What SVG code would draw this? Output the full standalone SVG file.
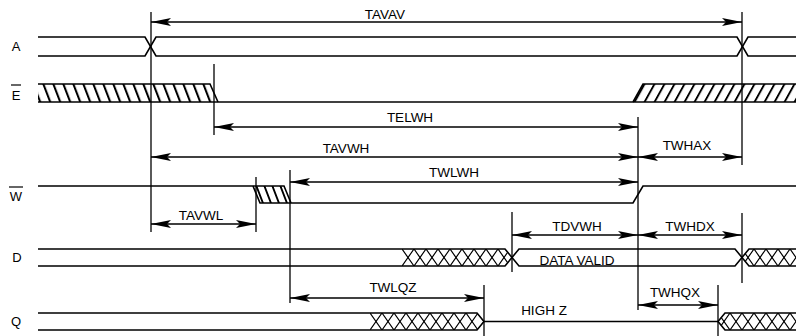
<svg xmlns="http://www.w3.org/2000/svg" width="796" height="336" viewBox="0 0 796 336">
<style>
.sig{fill:none;stroke:#000;stroke-width:1.6}
.vl{fill:none;stroke:#000;stroke-width:1.3}
.dim{fill:none;stroke:#000;stroke-width:1.3;marker-start:url(#ah);marker-end:url(#ah)}
.hz{fill:none;stroke:#000;stroke-width:1.2}
text{font-family:"Liberation Sans",Arial,sans-serif;font-size:13.5px;fill:#000;text-anchor:middle}
.lbl{font-size:13px}
</style>
<defs>
<marker id="ah" viewBox="0 0 20 10" refX="20" refY="5" markerWidth="20" markerHeight="10" markerUnits="userSpaceOnUse" orient="auto-start-reverse">
<path d="M0,1 L20,5 L0,9 L4,5 Z" fill="#000"/>
</marker>
<pattern id="hb" patternUnits="userSpaceOnUse" width="10" height="10" patternTransform="skewX(21)">
<rect x="0" y="0" width="2.2" height="10" fill="#000"/>
</pattern>
<pattern id="hb8" patternUnits="userSpaceOnUse" width="8" height="10" patternTransform="skewX(21)">
<rect x="0" y="0" width="2" height="10" fill="#000"/>
</pattern>
<pattern id="hf" patternUnits="userSpaceOnUse" width="10" height="10" patternTransform="skewX(-29)">
<rect x="0" y="0" width="2.2" height="10" fill="#000"/>
</pattern>
<clipPath id="cD1"><polygon points="402,249 505,249 512,257.5 505,266 402,266"/></clipPath>
<clipPath id="cD2"><polygon points="742,257.5 749,249 796,249 796,266 749,266"/></clipPath>
<clipPath id="cQ1"><polygon points="370,313 477,313 484,321.5 477,330 370,330"/></clipPath>
<clipPath id="cQ2"><polygon points="718,321.5 725,313 796,313 796,330 725,330"/></clipPath>
</defs>

<g id="labels">
<text class="lbl" x="16" y="51">A</text>
<text class="lbl" x="16" y="100">E</text>
<line x1="11" y1="85" x2="21" y2="85" stroke="#000" stroke-width="1.2"/>
<text class="lbl" x="16" y="201">W</text>
<line x1="9" y1="187" x2="23" y2="187" stroke="#000" stroke-width="1.2"/>
<text class="lbl" x="17" y="262">D</text>
<text class="lbl" x="16" y="326">Q</text>
</g>

<g id="signal-A">
<path class="sig" d="M38,37 H145 L156,56 H737 L748,37 H796"/>
<path class="sig" d="M38,56 H145 L156,37 H737 L748,56 H796"/>
</g>

<g id="signal-E">
<polygon points="38,84 210,84 218,102 38,102" fill="url(#hb)"/>
<polygon points="643,84 796,84 796,102 633,102" fill="url(#hf)"/>
<path class="sig" d="M38,84 H210 L218,102"/>
<path class="sig" d="M38,102 H796"/>
<path class="sig" d="M633,102 L643,84 H796"/>
</g>

<g id="signal-W">
<polygon points="253,186 284,186 291,203 260,203" fill="url(#hb8)"/>
<path class="sig" d="M38,186 H284 L291,203"/>
<path class="sig" d="M253,186 L260,203 H633 L643,186 H796"/>
</g>

<g id="signal-D">
<path class="sig" d="M38,249 H505 L512,257.5 L519,249 H735 L742,257.5 L749,249 H796"/>
<path class="sig" d="M38,266 H505 L512,257.5 L519,266 H735 L742,257.5 L749,266 H796"/>
<g clip-path="url(#cD1)">
<path class="hz" d="M402,249 L414,266 L426,249 L438,266 L450,249 L462,266 L474,249 L486,266 L498,249 L510,266 L522,249"/>
<path class="hz" d="M402,266 L414,249 L426,266 L438,249 L450,266 L462,249 L474,266 L486,249 L498,266 L510,249 L522,266"/>
</g>
<g clip-path="url(#cD2)">
<path class="hz" d="M742,249 L754,266 L766,249 L778,266 L790,249 L802,266"/>
<path class="hz" d="M742,266 L754,249 L766,266 L778,249 L790,266 L802,249"/>
</g>
<text x="577" y="265">DATA VALID</text>
</g>

<g id="signal-Q">
<path class="sig" d="M38,313 H477 L484,321.5 L477,330 H38"/>
<path class="sig" d="M484,321.5 H718"/>
<path class="sig" d="M796,313 H725 L718,321.5 L725,330 H796"/>
<g clip-path="url(#cQ1)">
<path class="hz" d="M370,313 L382,330 L394,313 L406,330 L418,313 L430,330 L442,313 L454,330 L466,313 L478,330 L490,313"/>
<path class="hz" d="M370,330 L382,313 L394,330 L406,313 L418,330 L430,313 L442,330 L454,313 L466,330 L478,313 L490,330"/>
</g>
<g clip-path="url(#cQ2)">
<path class="hz" d="M718,313 L730,330 L742,313 L754,330 L766,313 L778,330 L790,313 L802,330"/>
<path class="hz" d="M718,330 L730,313 L742,330 L754,313 L766,330 L778,313 L790,330 L802,313"/>
</g>
<text x="544" y="315">HIGH Z</text>
</g>

<g id="connectors">
<line class="vl" x1="151" y1="12" x2="151" y2="232"/>
<line class="vl" x1="742" y1="12" x2="742" y2="165"/>
<line class="vl" x1="742" y1="213" x2="742" y2="283"/>
<line class="vl" x1="214" y1="64" x2="214" y2="135"/>
<line class="vl" x1="638" y1="117" x2="638" y2="310"/>
<line class="vl" x1="256" y1="177" x2="256" y2="232"/>
<line class="vl" x1="290" y1="170" x2="290" y2="303"/>
<line class="vl" x1="512" y1="212" x2="512" y2="272"/>
<line class="vl" x1="484" y1="285" x2="484" y2="336"/>
<line class="vl" x1="718" y1="285" x2="718" y2="336"/>

<line class="dim" x1="151" y1="22" x2="742" y2="22"/>
<line class="dim" x1="214" y1="127" x2="638" y2="127"/>
<line class="dim" x1="151" y1="157" x2="638" y2="157"/>
<line class="dim" x1="638" y1="157" x2="742" y2="157"/>
<line class="dim" x1="290" y1="182" x2="638" y2="182"/>
<line class="dim" x1="151" y1="224" x2="256" y2="224"/>
<line class="dim" x1="512" y1="235" x2="638" y2="235"/>
<line class="dim" x1="638" y1="235" x2="742" y2="235"/>
<line class="dim" x1="290" y1="298" x2="484" y2="298"/>
<line class="dim" x1="638" y1="305" x2="718" y2="305"/>

<text x="385" y="19">TAVAV</text>
<text x="410" y="122">TELWH</text>
<text x="346" y="153">TAVWH</text>
<text x="687" y="150">TWHAX</text>
<text x="454" y="177">TWLWH</text>
<text x="201" y="220">TAVWL</text>
<text x="577" y="231">TDVWH</text>
<text x="690" y="231">TWHDX</text>
<text x="393" y="292">TWLQZ</text>
<text x="675" y="297">TWHQX</text>
</g>
</svg>
